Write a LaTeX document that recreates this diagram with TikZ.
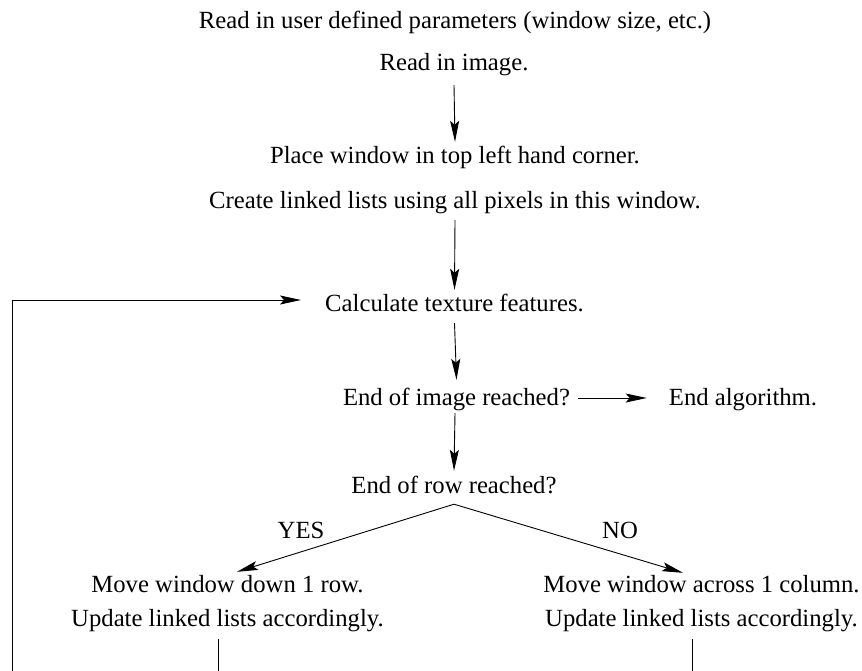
\documentclass[tikz,border=0pt]{standalone}
\usepackage{fontspec}
\setmainfont{Liberation Serif}
\usetikzlibrary{arrows.meta}
\begin{document}
\begin{tikzpicture}[x=1pt,y=-1pt,
  lbl/.style={anchor=base,inner sep=0pt,text height=18pt,text depth=6pt,
    font=\fontsize{24.7}{33}\selectfont},
  conn/.style={line width=0.9pt,black},
  arr/.style={conn,-{Stealth[length=21pt,width=9pt,inset=4pt]}}]
\useasboundingbox (0,0) rectangle (862,671);

% text of the flow chart
\node[lbl] (params) at (455,29)  {Read in user defined parameters (window size, etc.)};
\node[lbl] (readimg) at (454,71) {Read in image.};
\node[lbl] (place) at (455,164)  {Place window in top left hand corner.};
\node[lbl] (create) at (455,209) {Create linked lists using all pixels in this window.};
\node[lbl] (calc) at (454.5,311) {Calculate texture features.};
\node[lbl] (eoi) at (456.5,405)  {End of image reached?};
\node[lbl] (endalg) at (743,405) {End algorithm.};
\node[lbl] (eor) at (454,493)    {End of row reached?};
\node[lbl] (yes) at (301,538)    {YES};
\node[lbl] (no) at (620,538)     {NO};
\node[lbl] (down1) at (227.5,592) {Move window down 1 row.};
\node[lbl] (down2) at (227.5,626) {Update linked lists accordingly.};
\node[lbl] (across1) at (701.5,592) {Move window across 1 column.};
\node[lbl] (across2) at (701.5,626) {Update linked lists accordingly.};

% loose ends at the lower edge
\coordinate (loopfoot) at (12,671);
\coordinate (downfoot) at (218.5,671);
\coordinate (acrossfoot) at (692.5,671);
\coordinate (split) at ([yshift=-5pt]eor.south);

% main sequence
\draw[arr] ([yshift=-8pt]readimg.south) -- ([yshift=4pt]place.north);
\draw[arr] ([yshift=-5pt]create.south) -- ([yshift=3pt]calc.north);
\draw[arr] ([yshift=-6pt]calc.south) -- ([yshift=7pt]eoi.north);
\draw[arr] ([xshift=8pt,yshift=1pt]eoi.east) -- ([xshift=-22pt,yshift=1pt]endalg.west);
\draw[arr] ([xshift=-1.5pt,yshift=-2pt]eoi.south) -- ([yshift=4pt]eor.north);

% branch on end of row
\draw[arr] (split) -- ([xshift=9.5pt,yshift=2pt]down1.north);
\draw[arr] (split) -- ([xshift=-18.5pt,yshift=1pt]across1.north);

% return paths
\draw[conn] ([xshift=-9pt,yshift=-7pt]down2.south) -- (downfoot);
\draw[conn] ([xshift=-9pt,yshift=-7pt]across2.south) -- (acrossfoot);
\draw[arr] (loopfoot) |- ([xshift=-24pt,yshift=5pt]calc.west);
\end{tikzpicture}
\end{document}
